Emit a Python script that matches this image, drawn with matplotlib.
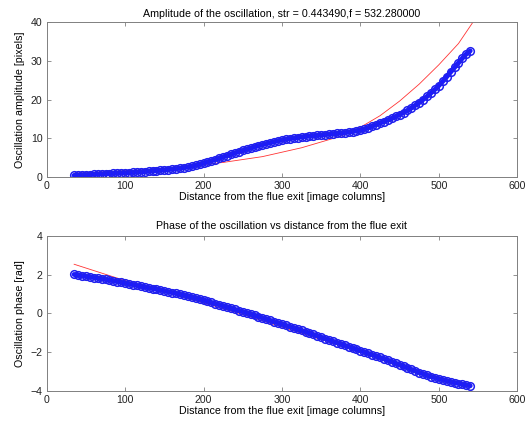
import numpy as np
import matplotlib
matplotlib.use("Agg")
import matplotlib.pyplot as plt

plt.rcParams['font.family'] = ['Liberation Sans', 'DejaVu Sans']

# sampled image columns (every 5 columns)
cols = np.arange(35, 541, 5)

amp = [0.35, 0.4, 0.45, 0.5, 0.55, 0.6, 0.65, 0.7, 0.75, 0.8,
       0.85, 0.9, 0.95, 1.0, 1.05, 1.1, 1.15, 1.25, 1.3, 1.4,
       1.45, 1.55, 1.65, 1.75, 1.85, 1.95, 2.05, 2.2, 2.35, 2.5,
       2.7, 2.95, 3.2, 3.5, 3.8, 4.1, 4.45, 4.8, 5.1, 5.45,
       5.8, 6.15, 6.5, 6.8, 7.1, 7.4, 7.7, 8.0, 8.3, 8.55,
       8.8, 9.05, 9.3, 9.5, 9.7, 9.85, 10.0, 10.15, 10.3, 10.4,
       10.5, 10.6, 10.7, 10.8, 10.9, 11.0, 11.1, 11.2, 11.3, 11.4,
       11.55, 11.7, 11.85, 12.05, 12.3, 12.7, 13.1, 13.5, 13.9, 14.3,
       14.7, 15.1, 15.6, 16.1, 16.6, 17.2, 17.8, 18.5, 19.2, 20.0,
       20.8, 21.7, 22.6, 23.6, 24.7, 25.9, 27.1, 28.3, 29.5, 30.7,
       31.8, 32.6]

phase = [2.02, 1.98, 1.95, 1.92, 1.89, 1.86, 1.83, 1.8, 1.76, 1.73,
         1.69, 1.65, 1.61, 1.57, 1.53, 1.49, 1.45, 1.41, 1.37, 1.33,
         1.29, 1.25, 1.21, 1.17, 1.12, 1.08, 1.04, 0.99, 0.95, 0.9,
         0.85, 0.8, 0.75, 0.69, 0.63, 0.57, 0.51, 0.45, 0.39, 0.33,
         0.27, 0.21, 0.15, 0.09, 0.03, -0.03, -0.1, -0.16, -0.23, -0.29,
         -0.36, -0.42, -0.49, -0.55, -0.62, -0.68, -0.75, -0.82, -0.88, -0.95,
         -1.02, -1.09, -1.16, -1.23, -1.3, -1.37, -1.44, -1.51, -1.58, -1.65,
         -1.72, -1.79, -1.86, -1.93, -2.0, -2.07, -2.14, -2.21, -2.28, -2.35,
         -2.42, -2.5, -2.58, -2.66, -2.74, -2.82, -2.9, -2.98, -3.06, -3.13,
         -3.2, -3.27, -3.33, -3.39, -3.44, -3.49, -3.54, -3.59, -3.63, -3.67,
         -3.71, -3.75]

# fitted curves (red)
fit_amp_x = [35, 75, 125, 175, 225, 275, 325, 375, 400, 425, 450, 475, 500, 525, 545]
fit_amp_y = [0.9, 1.25, 1.8, 2.6, 3.7, 5.2, 7.5, 10.5, 12.8, 15.8, 19.6, 24.0, 29.0, 34.5, 40.5]
fit_ph_x = [35, 100, 150, 200, 250, 300, 350, 400, 450, 500, 540]
fit_ph_y = [2.55, 1.7, 1.12, 0.55, -0.05, -0.7, -1.35, -2.0, -2.65, -3.3, -3.8]

fig = plt.figure(figsize=(5.28, 4.26), dpi=100)
ax1 = fig.add_axes([0.0884, 0.5852, 0.8913, 0.3624])
ax2 = fig.add_axes([0.0884, 0.0830, 0.8913, 0.3624])

FS = 7.7

def style(ax):
    for s in ax.spines.values():
        s.set_color('#808080')
        s.set_linewidth(0.7)
    ax.tick_params(direction='in', top=True, right=True, length=3,
                   width=0.6, color='#808080', labelsize=7.6, pad=3,
                   labelcolor='#222222')
    ax.set_xlim(0, 600)
    ax.set_xticks(range(0, 601, 100))

def data_band(ax, x, y):
    # dense column samples look like a thick band of circles
    ax.plot(x, y, '-', color='#1a1aff', lw=3.5, solid_capstyle='round')
    ax.plot(x, y, 'o', mfc='none', mec='#2020ee', ms=5.5, mew=1.1)

ax1.plot(fit_amp_x, fit_amp_y, color='red', lw=0.6, alpha=0.8)
data_band(ax1, cols, amp)
style(ax1)
ax1.set_ylim(0, 40)
ax1.set_yticks(range(0, 41, 10))
ax1.set_title('Amplitude of the oscillation, str = 0.443490,f = 532.280000',
              fontsize=FS, pad=4)
ax1.set_xlabel('Distance from the flue exit [image columns]', fontsize=FS, labelpad=1)
ax1.set_ylabel('Oscillation amplitude [pixels]', fontsize=FS, labelpad=4)

ax2.plot(fit_ph_x, fit_ph_y, color='red', lw=0.6, alpha=0.8)
data_band(ax2, cols, phase)
style(ax2)
ax2.set_ylim(-4, 4)
ax2.set_yticks(range(-4, 5, 2))
ax2.set_title('Phase of the oscillation vs distance from the flue exit',
              fontsize=FS, pad=5)
ax2.set_xlabel('Distance from the flue exit [image columns]', fontsize=FS, labelpad=1)
ax2.set_ylabel('Oscillation phase [rad]', fontsize=FS, labelpad=4)

fig.savefig('out.png', dpi=100)
